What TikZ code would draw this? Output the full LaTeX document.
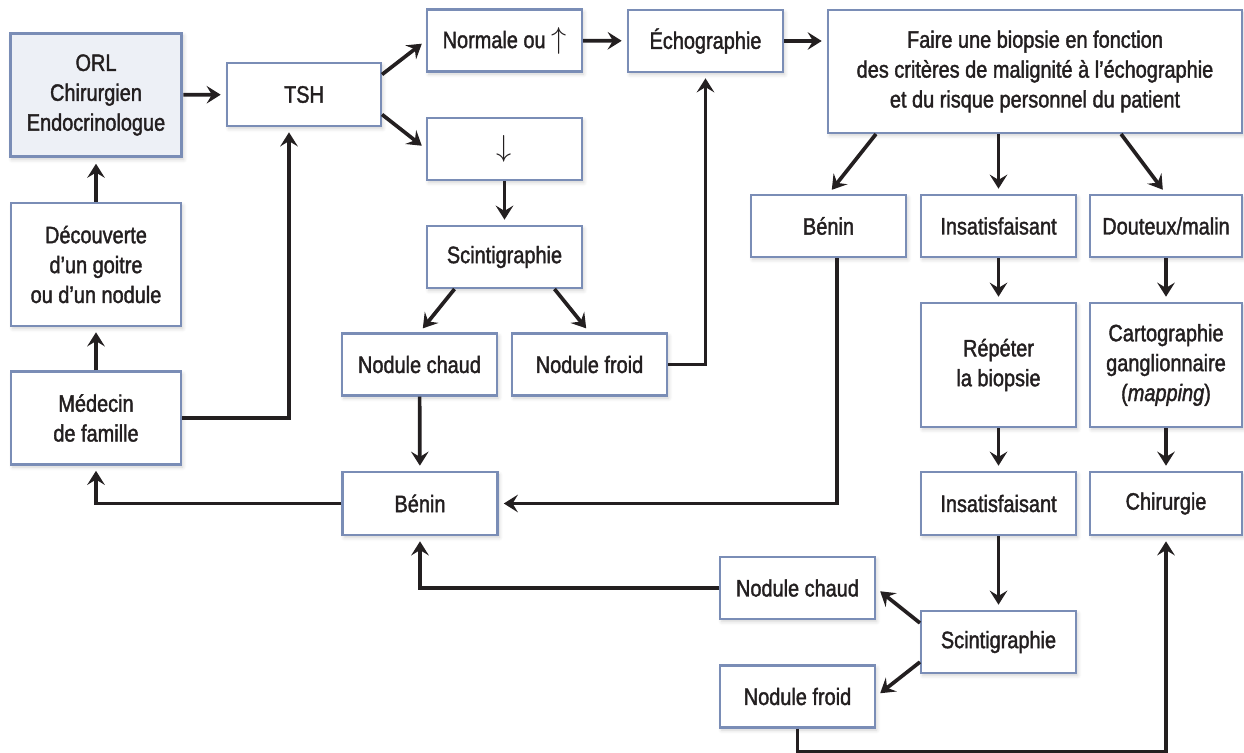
\documentclass[tikz,border=0pt]{standalone}
\usepackage{fontspec}
\setmainfont[FakeStretch=0.84,FakeBold=1.6]{Liberation Sans}
\usetikzlibrary{arrows.meta,shadows.blur}
\definecolor{cadre}{HTML}{7A8DB6}
\definecolor{fondtete}{HTML}{EDF0F6}
\definecolor{encre}{HTML}{231F20}
\newcommand{\grandeur}[1]{{\fontsize{19}{17}\selectfont$#1$}}
\begin{document}
\begin{tikzpicture}[x=0.02cm,y=-0.02cm,
    box/.style={draw=cadre,line width=1.2pt,fill=white,align=center,text=encre,
      font=\fontsize{13.5}{17}\selectfont,inner sep=2pt,
      minimum width=3.1cm,minimum height=1.24cm,
      blur shadow={shadow xshift=1pt,shadow yshift=-1.5pt,shadow blur steps=6,shadow opacity=18}},
    boxhead/.style={box,fill=fondtete,line width=1.7pt},
    fleche/.style={draw=encre,line width=2.1pt,
      -{Stealth[length=8pt,width=10pt,inset=3pt]},shorten >=3pt},
    longue/.style={fleche,line width=1.8pt}]
        \useasboundingbox (0,0) rectangle (1244,753);
        % colonne de gauche
        \node[boxhead,minimum width=3.44cm,minimum height=2.48cm] (orl) at (96,95) {ORL\\Chirurgien\\Endocrinologue};
        \node[box,minimum width=3.4cm,minimum height=2.46cm] (decouv) at (96,264.5) {Découverte\\d’un goitre\\ou d’un nodule};
        \node[box,minimum width=3.4cm,minimum height=1.86cm] (medecin) at (96,418) {Médecin\\de famille};
        % TSH et suite
        \node[box,minimum width=3.08cm,minimum height=1.26cm] (tsh) at (304,94.5) {TSH};
        \node[box] (normale) at (504.5,40.5) {Normale ou \grandeur{\uparrow}};
        \node[box] (bas) at (504.5,149) {\grandeur{\downarrow}};
        \node[box] (scinta) at (504.5,257) {Scintigraphie};
        \node[box] (chauda) at (419.5,364.5) {Nodule chaud};
        \node[box] (froida) at (589.5,364.5) {Nodule froid};
        \node[box,minimum height=1.26cm] (benina) at (420,503.5) {Bénin};
        \node[box] (echo) at (705.5,41) {Échographie};
        % biopsie
        \node[box,minimum width=8.28cm,minimum height=2.46cm] (biopsie) at (1035,71.5) {Faire une biopsie en fonction\\des critères de malignité à l’échographie\\et du risque personnel du patient};
        \node[box] (beninb) at (828.5,226) {Bénin};
        \node[box] (insata) at (998.5,226) {Insatisfaisant};
        \node[box,minimum width=3.04cm] (douteux) at (1166,226) {Douteux/malin};
        \node[box,minimum height=2.48cm] (repeter) at (998.5,365) {Répéter\\la biopsie};
        \node[box,minimum width=3.04cm,minimum height=2.48cm] (carto) at (1166,365) {Cartographie\\ganglionnaire\\(\textit{mapping})};
        \node[box,minimum height=1.26cm] (insatb) at (998.5,503.5) {Insatisfaisant};
        \node[box,minimum width=3.04cm,minimum height=1.26cm] (chir) at (1166,503.5) {Chirurgie};
        \node[box] (chaudb) at (797.5,588) {Nodule chaud};
        \node[box] (scintb) at (998.5,642) {Scintigraphie};
        \node[box] (froidb) at (797.5,696.5) {Nodule froid};
        % liaisons
        \draw[fleche] (orl) -- (tsh);
        \draw[fleche] (decouv) -- (orl);
        \draw[fleche] (medecin) -- (decouv);
        \draw[longue] (medecin.east) -| ([xshift=-0.3cm]tsh.south);
        \draw[fleche] ([yshift=0.4cm]tsh.east) -- (normale.west);
        \draw[fleche] ([yshift=-0.4cm]tsh.east) -- (bas.west);
        \draw[fleche] (normale) -- (echo);
        \draw[fleche] (echo.east) -- (echo.east -| biopsie.west);
        \draw[fleche] (bas) -- (scinta);
        \draw[fleche] ([xshift=-1cm]scinta.south) -- (chauda.north);
        \draw[fleche] ([xshift=1cm]scinta.south) -- (froida.north);
        \draw[fleche] (chauda) -- (benina);
        \draw[longue] (froida.east) -| (echo.south);
        \draw[fleche] ([xshift=0.98cm]biopsie.south west) -- (beninb.north);
        \draw[fleche] (insata.north |- biopsie.south) -- (insata.north);
        \draw[fleche] ([xshift=-2.44cm]biopsie.south east) -- (douteux.north);
        \draw[longue] ([xshift=0.17cm]beninb.south) |- (benina.east);
        \draw[fleche] (insata) -- (repeter);
        \draw[fleche] (repeter) -- (insatb);
        \draw[fleche] (insatb) -- (scintb);
        \draw[fleche] (douteux) -- (carto);
        \draw[fleche] (carto) -- (chir);
        \draw[longue] (benina.west) -| (medecin.south);
        \draw[longue] (chaudb.west) -| (benina.south);
        \draw[fleche] ([yshift=0.38cm]scintb.west) -- (chaudb.east);
        \draw[fleche] ([yshift=-0.4cm]scintb.west) -- (froidb.east);
        \draw[longue] (froidb.south) -- ++(0,23) -| (chir.south);
\end{tikzpicture}
\end{document}
